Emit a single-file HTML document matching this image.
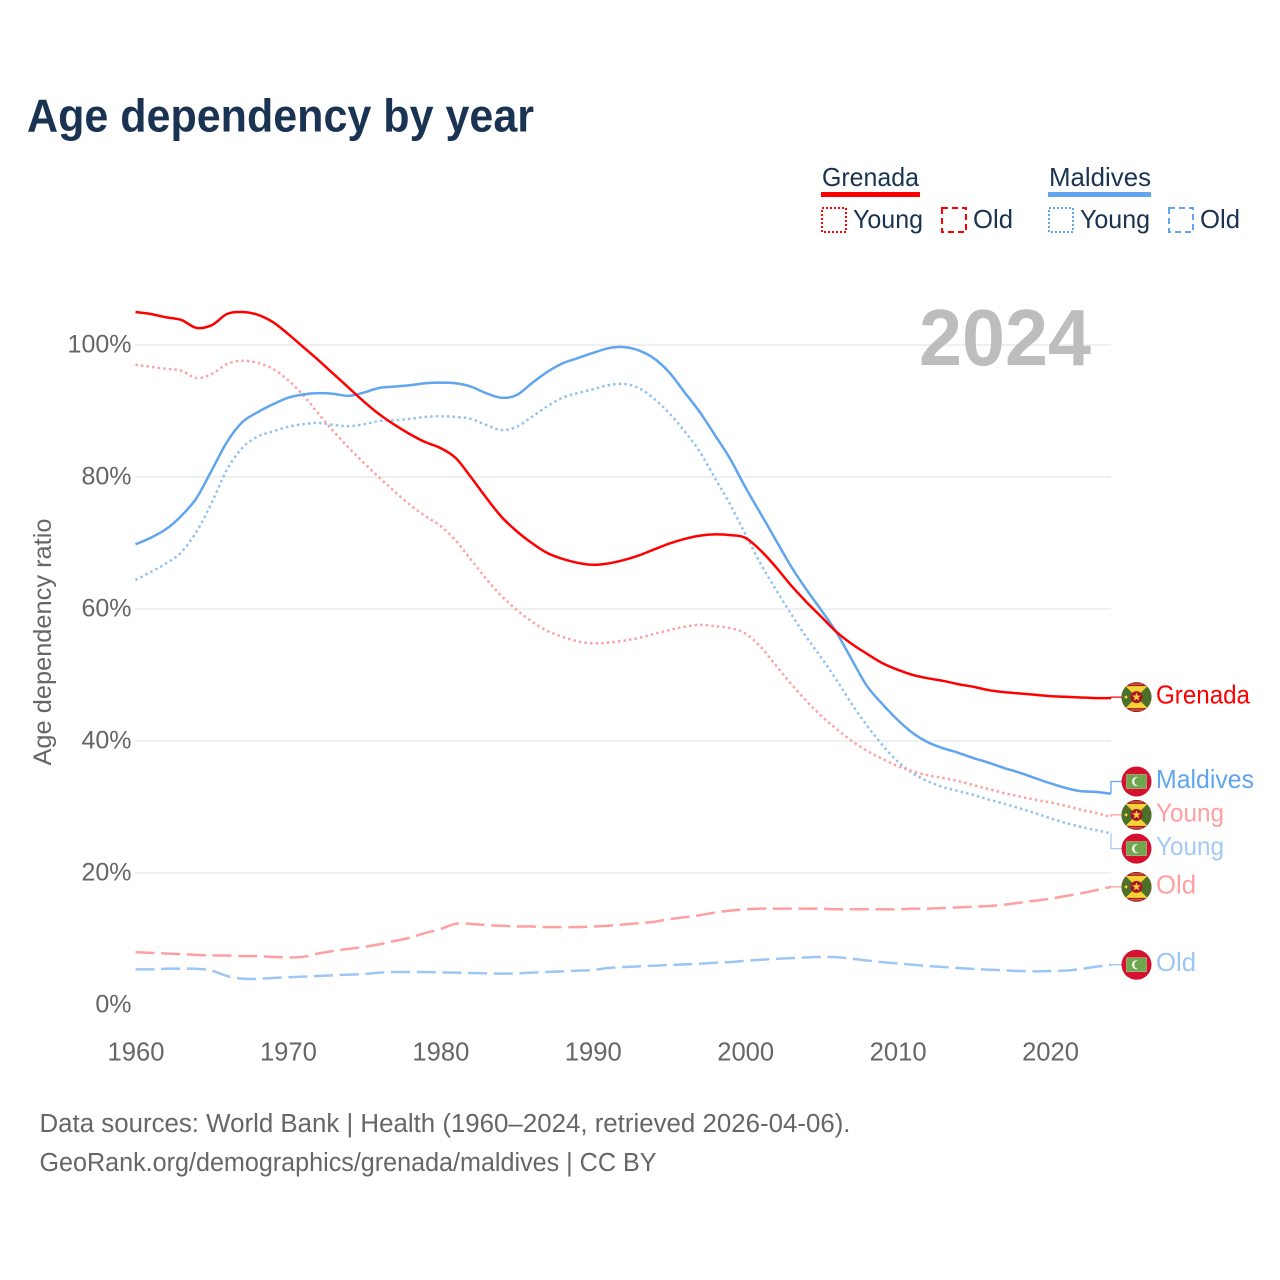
<!DOCTYPE html>
<html lang="en">
<head>
<meta charset="utf-8">
<title>Age dependency by year</title>
<style>
html,body{margin:0;padding:0;background:#fff;width:1280px;height:1280px;overflow:hidden}
svg{display:block}
text{font-family:"Liberation Sans",sans-serif}
</style>
</head>
<body>
<svg id="chart" xmlns="http://www.w3.org/2000/svg" width="1280" height="1280" viewBox="0 0 1280 1280">
  <defs>
    <clipPath id="flag-clip"><circle cx="0" cy="0" r="15"/></clipPath>
    <symbol id="flag-grenada" overflow="visible" viewBox="-15 -15 30 30" width="30" height="30">
      <g clip-path="url(#flag-clip)">
        <rect x="-15" y="-15" width="30" height="30" fill="#a8152a"/>
        <rect x="-15" y="-11" width="30" height="22" fill="#4c7029"/>
        <polygon points="-11,-11 11,-11 0,0" fill="#f7d135"/>
        <polygon points="-11,11 11,11 0,0" fill="#f7d135"/>
        <circle cx="0" cy="0" r="6" fill="#a8152a"/>
        <polygon points="0,-4.6 1.2,-1.5 4.4,-1.5 1.8,0.5 2.7,3.7 0,1.8 -2.7,3.7 -1.8,0.5 -4.4,-1.5 -1.2,-1.5" fill="#f7d135"/>
        <circle cx="-10.5" cy="0" r="1.5" fill="#f7d135"/>
        <rect x="-6" y="-13.4" width="12" height="1" fill="#f7d135" opacity="0.6"/>
        <rect x="-6" y="12.4" width="12" height="1" fill="#f7d135" opacity="0.6"/>
      </g>
    </symbol>
    <symbol id="flag-maldives" overflow="visible" viewBox="-15 -15 30 30" width="30" height="30">
      <circle cx="0" cy="0" r="15" fill="#d6102f"/>
      <rect x="-10" y="-7" width="20" height="14" fill="#6fa64e" stroke="#a8c99a" stroke-width="0.6"/>
      <circle cx="0" cy="0" r="4.6" fill="#eef3ea"/>
      <circle cx="2" cy="0" r="4.2" fill="#6fa64e"/>
    </symbol>
  </defs>

  <text x="27" y="131.5" font-size="46" font-weight="700" fill="#1a3352" textLength="507" lengthAdjust="spacingAndGlyphs">Age dependency by year</text>

  <g>
    <text x="822" y="186" font-size="26" fill="#1a3352" textLength="97" lengthAdjust="spacingAndGlyphs">Grenada</text>
    <rect x="821" y="192" width="99" height="5" fill="#ff0000"/>
    <rect x="822" y="208" width="24" height="24" fill="none" stroke="#ff0000" stroke-width="2" stroke-dasharray="2 2"/>
    <text x="853" y="228" font-size="26" fill="#1a3352" textLength="70" lengthAdjust="spacingAndGlyphs">Young</text>
    <rect x="942" y="208" width="24" height="24" fill="none" stroke="#ff0000" stroke-width="2" stroke-dasharray="6 4"/>
    <text x="973" y="228" font-size="26" fill="#1a3352" textLength="40" lengthAdjust="spacingAndGlyphs">Old</text>

    <text x="1049" y="186" font-size="26" fill="#1a3352" textLength="102" lengthAdjust="spacingAndGlyphs">Maldives</text>
    <rect x="1048" y="192" width="103" height="5" fill="#60a5ee"/>
    <rect x="1049" y="208" width="24" height="24" fill="none" stroke="#60a5ee" stroke-width="2" stroke-dasharray="2 2"/>
    <text x="1080" y="228" font-size="26" fill="#1a3352" textLength="70" lengthAdjust="spacingAndGlyphs">Young</text>
    <rect x="1169" y="208" width="24" height="24" fill="none" stroke="#60a5ee" stroke-width="2" stroke-dasharray="6 4"/>
    <text x="1200" y="228" font-size="26" fill="#1a3352" textLength="40" lengthAdjust="spacingAndGlyphs">Old</text>
  </g>

  <g id="grid"></g>

  <text x="919" y="365" font-size="80" font-weight="700" fill="#bdbdbd" textLength="172" lengthAdjust="spacingAndGlyphs">2024</text>

  <g id="y-ticks"></g>
  <g id="x-ticks"></g>
  <text transform="translate(51 642) rotate(-90)" text-anchor="middle" font-size="25" fill="#666666" textLength="247" lengthAdjust="spacingAndGlyphs">Age dependency ratio</text>

  <g id="series"></g>
  <g id="end-labels"></g>

  <text x="39.5" y="1132" font-size="25.5" fill="#666666" textLength="811" lengthAdjust="spacingAndGlyphs">Data sources: World Bank | Health (1960–2024, retrieved 2026-04-06).</text>
  <text x="39.5" y="1171" font-size="25.5" fill="#666666" textLength="617" lengthAdjust="spacingAndGlyphs">GeoRank.org/demographics/grenada/maldives | CC BY</text>
</svg>

<script>
const years = [1960,1961,1962,1963,1964,1965,1966,1967,1968,1969,1970,1971,1972,1973,1974,1975,1976,1977,1978,1979,1980,1981,1982,1983,1984,1985,1986,1987,1988,1989,1990,1991,1992,1993,1994,1995,1996,1997,1998,1999,2000,2001,2002,2003,2004,2005,2006,2007,2008,2009,2010,2011,2012,2013,2014,2015,2016,2017,2018,2019,2020,2021,2022,2023,2024];
const xTickLabels = [1960,1970,1980,1990,2000,2010,2020];
const yTickLabels = [0,20,40,60,80,100];

const grenadaTotal = [105.0,104.7,104.2,103.8,102.6,103.0,104.7,105.0,104.6,103.5,101.7,99.7,97.7,95.6,93.5,91.4,89.5,87.9,86.5,85.3,84.4,82.9,80.0,76.9,74.0,71.8,70.0,68.5,67.6,67.0,66.7,66.9,67.4,68.1,69.0,69.9,70.6,71.1,71.3,71.2,70.8,68.9,66.4,63.6,61.1,58.8,56.5,54.7,53.2,51.8,50.8,50.0,49.5,49.1,48.6,48.2,47.7,47.4,47.2,47.0,46.8,46.7,46.6,46.5,46.5];
const grenadaYoung = [97.0,96.7,96.4,96.1,95.0,95.6,97.1,97.6,97.3,96.4,94.7,92.4,89.6,86.9,84.4,82.1,79.9,77.8,75.8,74.1,72.6,70.4,67.5,64.6,62.0,59.9,58.1,56.7,55.8,55.1,54.8,54.9,55.2,55.6,56.2,56.8,57.3,57.6,57.4,57.1,56.3,54.3,51.5,48.7,46.1,43.8,41.8,40.0,38.5,37.3,36.2,35.4,34.8,34.4,33.9,33.3,32.7,32.1,31.6,31.1,30.7,30.2,29.6,29.1,28.5];
const grenadaOld = [8.0,7.9,7.8,7.7,7.6,7.5,7.5,7.4,7.4,7.3,7.2,7.3,7.8,8.2,8.5,8.8,9.2,9.7,10.2,10.9,11.5,12.3,12.3,12.1,12.0,11.9,11.9,11.8,11.8,11.8,11.9,12.0,12.2,12.4,12.6,13.0,13.3,13.6,14.0,14.3,14.5,14.6,14.6,14.6,14.6,14.6,14.5,14.5,14.5,14.5,14.5,14.6,14.6,14.7,14.8,14.9,15.0,15.2,15.5,15.8,16.1,16.5,16.9,17.4,17.9];
const maldivesTotal = [69.8,70.8,72.1,74.1,76.8,81.0,85.3,88.3,89.8,91.0,92.0,92.5,92.7,92.6,92.3,92.8,93.5,93.7,93.9,94.2,94.3,94.2,93.7,92.7,92.0,92.4,94.2,95.9,97.2,98.0,98.8,99.5,99.7,99.2,98.0,95.9,92.9,89.9,86.4,82.8,78.5,74.5,70.5,66.5,63.0,59.8,56.4,52.3,48.3,45.6,43.2,41.2,39.8,38.9,38.2,37.4,36.7,35.9,35.2,34.4,33.6,32.9,32.4,32.3,32.0];
const maldivesYoung = [64.4,65.6,66.9,68.6,71.7,76.1,81.1,84.4,86.1,86.9,87.6,88.0,88.2,87.9,87.7,88.0,88.5,88.6,88.8,89.1,89.2,89.1,88.8,87.9,87.1,87.6,89.1,90.7,92.0,92.7,93.3,93.9,94.1,93.5,91.9,89.7,87.0,83.9,79.9,75.9,71.4,66.9,63.0,59.3,55.8,52.6,49.2,45.6,42.3,39.4,36.9,35.1,33.9,33.0,32.4,31.8,31.1,30.5,29.8,29.1,28.3,27.6,27.0,26.5,26.0];
const maldivesOld = [5.4,5.4,5.5,5.5,5.5,5.2,4.4,4.0,3.95,4.1,4.2,4.3,4.4,4.5,4.6,4.7,4.9,5.0,5.0,5.0,4.95,4.9,4.85,4.8,4.75,4.8,4.9,5.0,5.1,5.2,5.3,5.6,5.75,5.85,5.95,6.05,6.15,6.25,6.4,6.5,6.7,6.85,7.0,7.1,7.2,7.3,7.25,7.0,6.75,6.5,6.3,6.1,5.9,5.75,5.6,5.45,5.35,5.25,5.15,5.1,5.15,5.2,5.45,5.8,6.1];

const NS = 'http://www.w3.org/2000/svg';
function xScale(year){ return 135.5 + (year - 1960) * (1111 - 135.5) / (2024 - 1960); }
function yScale(pct){ return 1005 - pct * 6.6; }
function make(tag, attrs, parent){
  const el = document.createElementNS(NS, tag);
  for (const k in attrs) el.setAttribute(k, attrs[k]);
  parent.appendChild(el);
  return el;
}

const gridG = document.getElementById('grid');
const yTicksG = document.getElementById('y-ticks');
const xTicksG = document.getElementById('x-ticks');
yTickLabels.forEach(function(t){
  if (t > 0) {
    const line = make('line', {x1:135, x2:1111, y1:yScale(t), y2:yScale(t), stroke:'#ececec', 'stroke-width':1.5}, gridG);
    
    
  }
  const lab = make('text', {x:131.5, y:yScale(t)+7.5, 'text-anchor':'end', 'font-size':25, fill:'#666666'}, yTicksG);
  
  
  lab.textContent = t + '%';
});
xTickLabels.forEach(function(t){
  const lab = make('text', {x:xScale(t)+0.5, y:1060.5, 'text-anchor':'middle', 'font-size':25.6, fill:'#666666'}, xTicksG);
  
  
  lab.textContent = t;
});

function curvePath(values){
  const p = values.map(function(v, i){ return [xScale(years[i]), yScale(v)]; });
  let d = 'M' + p[0][0].toFixed(2) + ' ' + p[0][1].toFixed(2);
  for (let i = 0; i < p.length - 1; i++) {
    const a = p[Math.max(i - 1, 0)], b = p[i], c = p[i + 1], e = p[Math.min(i + 2, p.length - 1)];
    const c1x = b[0] + (c[0] - a[0]) / 6, c1y = b[1] + (c[1] - a[1]) / 6;
    const c2x = c[0] - (e[0] - b[0]) / 6, c2y = c[1] - (e[1] - b[1]) / 6;
    d += 'C' + c1x.toFixed(2) + ' ' + c1y.toFixed(2) + ' ' + c2x.toFixed(2) + ' ' + c2y.toFixed(2) + ' ' + c[0].toFixed(2) + ' ' + c[1].toFixed(2);
  }
  return d;
}
function drawLine(values, color, dash, name){
  const attrs = {d:curvePath(values), fill:'none', stroke:color, 'stroke-width':2.5, 'stroke-linejoin':'round'};
  if (dash) attrs['stroke-dasharray'] = dash;
  const el = make('path', attrs, document.getElementById('series'));
  
  
}
const RED='#ff0000', BLUE='#60a5ee', PINK='#ff9f9f', SKY='#9cc6f3';
const DOT='2.4 3.2', DASH='19 6.7';
drawLine(maldivesOld, SKY, DASH, 'line-maldives-old');
drawLine(grenadaOld, PINK, DASH, 'line-grenada-old');
drawLine(maldivesYoung, '#90c0f2', DOT, 'line-maldives-young');
drawLine(grenadaYoung, PINK, DOT, 'line-grenada-young');
drawLine(maldivesTotal, BLUE, null, 'line-maldives-total');
drawLine(grenadaTotal, RED, null, 'line-grenada-total');

function drawEnd(values, shift, flagId, text, color, width, baseName){
  const endY = yScale(values[values.length - 1]);
  const cy = endY + shift;
  const g = document.getElementById('end-labels');
  const conn = make('polyline', {points:'1111,'+endY+' 1111,'+cy+' 1122,'+cy, fill:'none', stroke:color, 'stroke-width':1.3}, g);
  
  
  const flag = make('use', {href:'#'+flagId, x:1136.5-15, y:cy-15, width:30, height:30}, g);
  
  
  const lab = make('text', {x:1156, y:cy+6.5, 'font-size':26, fill:color, textLength:width, lengthAdjust:'spacingAndGlyphs'}, g);
  
  
  lab.textContent = text;
}
drawEnd(maldivesOld, 0, 'flag-maldives', 'Old', SKY, 40, 'maldives-old');
drawEnd(grenadaOld, 0, 'flag-grenada', 'Old', PINK, 40, 'grenada-old');
drawEnd(maldivesYoung, 15.2, 'flag-maldives', 'Young', '#a3caf5', 68, 'maldives-young');
drawEnd(grenadaYoung, -2, 'flag-grenada', 'Young', PINK, 68, 'grenada-young');
drawEnd(maldivesTotal, -12.3, 'flag-maldives', 'Maldives', BLUE, 98, 'maldives-total');
drawEnd(grenadaTotal, -1, 'flag-grenada', 'Grenada', RED, 94, 'grenada-total');
</script>
</body>
</html>
